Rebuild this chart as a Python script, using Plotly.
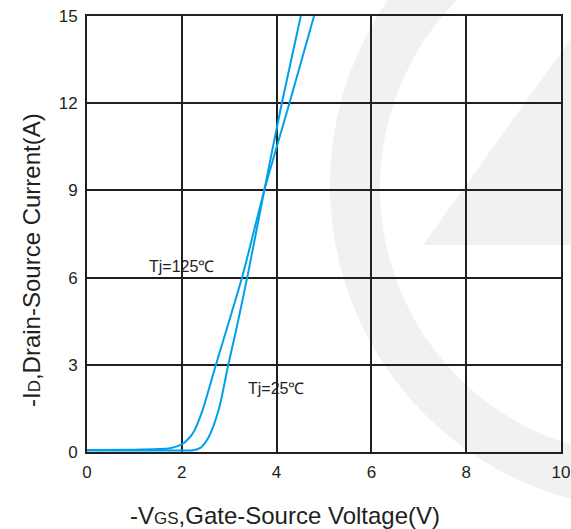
import numpy as np
import plotly.graph_objects as go

# ---- data ----
vgs_25 = [0.0, 1.0, 2.0, 2.24, 2.39, 2.56, 2.78, 2.98, 3.12, 3.38, 3.74, 4.11, 4.51]
id_25 = [0.05, 0.05, 0.05, 0.06, 0.14, 0.49, 1.46, 3.0, 4.0, 6.0, 9.0, 12.0, 15.0]

vgs_125 = [0.0, 1.0, 1.5, 1.75, 2.0, 2.12, 2.24, 2.43, 2.72, 3.27, 3.74, 4.27, 4.79]
id_125 = [0.07, 0.08, 0.10, 0.13, 0.26, 0.42, 0.66, 1.40, 3.0, 6.0, 9.0, 12.0, 15.0]

x_ticks = [0, 2, 4, 6, 8, 10]
y_ticks = [0, 3, 6, 9, 12, 15]

W, H = 571, 529
L, R, T, B = 87, 10, 16, 77
PW, PH = W - L - R, H - T - B

BLUE = "#00a0e9"
DARK = "#231f20"
FONT = "Arial, Liberation Sans, sans-serif"


def px2paper(px, py):
    return (px - L) / PW, (H - B - py) / PH


def poly_path(pts):
    s = ""
    for i, (px, py) in enumerate(pts):
        xp, yp = px2paper(px, py)
        s += ("M" if i == 0 else "L") + f"{xp:.4f},{yp:.4f}"
    return s + "Z"


# watermark ring (decoration)
th = np.linspace(0, 2 * np.pi, 180)
outer = [(655 + 325 * np.cos(t), 185 + 325 * np.sin(t)) for t in th]
inner = [(648 + 268 * np.cos(t), 188 + 268 * np.sin(t)) for t in th[::-1]]
ring = poly_path(outer) + poly_path(inner)
tri = poly_path([(423, 245), (620, 245), (620, -30)])

fig = go.Figure()
fig.add_trace(go.Scatter(x=vgs_125, y=id_125, mode="lines",
                         line=dict(color=BLUE, width=2, shape="spline", smoothing=0.7),
                         showlegend=False))
fig.add_trace(go.Scatter(x=vgs_25, y=id_25, mode="lines",
                         line=dict(color=BLUE, width=2, shape="spline", smoothing=0.7),
                         showlegend=False))

fig.add_shape(type="path", path=ring, xref="paper", yref="paper",
              fillcolor="#f1f1f1", line=dict(width=0), layer="below")
fig.add_shape(type="path", path=tri, xref="paper", yref="paper",
              fillcolor="#f1f1f1", line=dict(width=0), layer="below")

fig.add_annotation(x=1.99, y=6.39, text="Tj=125℃", showarrow=False,
                   xanchor="center", yanchor="middle",
                   font=dict(family=FONT, size=16, color=DARK))
fig.add_annotation(x=3.98, y=2.18, text="Tj=25℃", showarrow=False,
                   xanchor="center", yanchor="middle",
                   font=dict(family=FONT, size=16, color=DARK))

xt, yt = px2paper(285, 515)
fig.add_annotation(x=xt, y=yt, xref="paper", yref="paper", showarrow=False,
                   xanchor="center", yanchor="middle",
                   text="-V<span style='font-size:17px'>GS</span>,Gate-Source Voltage(V)",
                   font=dict(family=FONT, size=24, color=DARK))
xy, yy = px2paper(31, 260)
fig.add_annotation(x=xy, y=yy, xref="paper", yref="paper", showarrow=False, textangle=-90,
                   xanchor="center", yanchor="middle",
                   text="-I<span style='font-size:17px'>D</span>,Drain-Source Current(A)",
                   font=dict(family=FONT, size=24, color=DARK))

axis_common = dict(showgrid=True, gridcolor=DARK, gridwidth=2, showline=True,
                   linecolor=DARK, linewidth=2, mirror=True, zeroline=False,
                   ticks="", automargin=False,
                   tickfont=dict(family=FONT, size=17, color=DARK))
fig.update_xaxes(range=[0, 10], tickvals=x_ticks, ticklabelstandoff=4, **axis_common)
fig.update_yaxes(range=[0, 15], tickvals=y_ticks, ticklabelstandoff=4, **axis_common)

fig.update_layout(width=W, height=H, margin=dict(l=L, r=R, t=T, b=B),
                  plot_bgcolor="rgba(0,0,0,0)", paper_bgcolor="white",
                  font=dict(family=FONT, color=DARK))

fig.write_html("out.html")
